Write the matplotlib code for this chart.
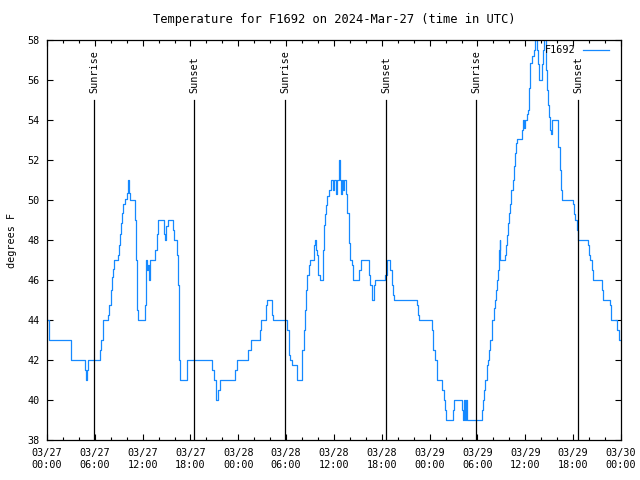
import pandas as pd
import matplotlib
matplotlib.use("Agg")
import matplotlib.pyplot as plt
import matplotlib.dates as mdates

start = pd.Timestamp("2024-03-27 00:00")

# hours since 03/27 00:00 UTC, and reading in degrees F (step data)
hours = [0, 0.25, 3.01, 4.77, 4.89, 5.02, 5.14, 6.65, 6.77, 7.03, 7.65, 7.78, 8.03, 8.15,
         8.28, 8.40, 8.91, 9.03, 9.16, 9.28, 9.41, 9.53, 9.78, 10.04, 10.16, 10.29, 10.41,
         11.04, 11.16, 11.29, 11.42, 12.29, 12.42, 12.48, 12.54, 12.67, 12.79, 12.92, 13.55,
         13.80, 13.92, 14.68, 14.80, 14.93, 15.18, 15.81, 15.93, 16.31, 16.43, 16.56, 16.62,
         16.68, 17.56, 20.70, 20.95, 21.20, 21.45, 21.70, 23.58, 23.83, 25.21, 25.59, 26.72,
         26.84, 27.47, 27.60, 28.22, 28.35, 29.85, 30.11, 30.36, 30.48, 30.73, 31.11, 31.36,
         31.99, 32.24, 32.36, 32.49, 32.61, 32.87, 32.99, 33.49, 33.62, 33.74, 33.87, 33.99,
         34.25, 34.62, 34.75, 34.87, 35.00, 35.12, 35.37, 35.63, 35.88, 36.00, 36.25, 36.38,
         36.63, 36.75, 36.88, 37.00, 37.13, 37.26, 37.51, 37.63, 37.88, 38.01, 38.26, 38.38,
         39.14, 39.39, 40.39, 40.52, 40.77, 41.02, 41.14, 42.40, 42.65, 43.03, 43.28, 43.40,
         43.53, 46.41, 46.54, 46.67, 48.29, 48.42, 48.67, 48.92, 49.55, 49.80, 49.93, 50.05,
         50.93, 51.05, 52.06, 52.18, 52.31, 52.43, 52.56, 52.68, 54.57, 54.69, 54.82, 54.94,
         55.19, 55.32, 55.44, 55.57, 55.82, 56.07, 56.20, 56.32, 56.45, 56.57, 56.70, 56.76,
         56.82, 57.45, 57.58, 57.70, 57.83, 57.95, 58.08, 58.20, 58.46, 58.58, 58.71, 58.83,
         58.96, 59.58, 59.71, 59.83, 59.96, 60.21, 60.34, 60.46, 60.59, 60.84, 61.09, 61.21,
         61.34, 61.47, 61.59, 61.72, 62.09, 62.22, 62.34, 62.59, 62.72, 62.85, 62.97, 63.10,
         63.22, 63.35, 63.97, 64.10, 64.35, 64.48, 64.60, 65.98, 66.11, 66.23, 66.48, 66.61,
         67.86, 67.99, 68.11, 68.36, 68.49, 69.62, 69.74, 70.62, 70.75, 71.50, 71.75, 72.0]
temps = [44, 43, 42, 41.5, 41, 41.5, 42, 42.5, 43, 44, 44.25, 44.75, 45.5, 46.15,
         46.55, 47, 47.25, 47.75, 48.3, 48.85, 49.35, 49.8, 50.05, 50.35, 51, 50.35, 50,
         49, 47, 44.5, 44, 44.75, 46.25, 47, 46.5, 46.75, 46, 47, 47.5,
         48.3, 49, 48.3, 48, 48.7, 49, 48.5, 48, 47.25, 45.75, 44, 42,
         41, 42, 41.5, 41, 40, 40.5, 41, 41.5, 42, 42.5, 43, 43.5,
         44, 44.75, 45, 44.25, 44, 44, 43.5, 42.25, 42, 41.75, 41.75, 41,
         42.5, 43.5, 44.5, 45.5, 46.25, 46.75, 47, 47.75, 48, 47.5, 47.25, 46.25,
         46, 47.5, 48.75, 49.3, 49.75, 50.2, 50.5, 51, 50.5, 51, 50.3, 51,
         52, 51, 50.3, 51, 50.5, 51, 50.3, 49.35, 47.85, 47, 46.75, 46,
         46.5, 47, 46.25, 45.75, 45, 45.75, 46, 46.25, 47, 46.5, 45.75, 45.25,
         45, 44.75, 44.25, 44, 43.5, 42.5, 42, 41, 40.5, 40, 39.5, 39,
         39.5, 40, 39.5, 39, 40, 39, 40, 39, 39.5, 40, 40.5, 41,
         41.75, 42, 42.5, 43, 44, 44.6, 45, 45.5, 46, 46.5, 47.5, 48,
         47, 47.25, 47.75, 48.25, 48.85, 49.35, 49.8, 50.5, 51, 51.7, 52.35, 52.85,
         53.05, 53.5, 54, 53.6, 54, 54.3, 54.5, 55.6, 56.85, 57.2, 57.5, 58,
         58.5, 57.5, 56.8, 56, 56.8, 57.5, 58.5, 56.5, 55.5, 54.75, 54.15, 53.5,
         53.3, 54, 54, 52.65, 51.5, 50.5, 50, 49.8, 49.3, 49, 48.5, 48,
         47.75, 47.25, 47, 46.5, 46, 45.5, 45, 44.75, 44, 43.5, 43, 43]

# sunrise / sunset, hours since start
sun_hours = [5.93, 18.48, 29.89, 42.56, 53.85, 66.65]
sun_labels = ["Sunrise", "Sunset", "Sunrise", "Sunset", "Sunrise", "Sunset"]

plt.rcParams["font.family"] = ["DejaVu Sans Mono"]
plt.rcParams["font.size"] = 7.3

times = start + pd.to_timedelta(hours, unit="h")
sun_times = start + pd.to_timedelta(sun_hours, unit="h")

fig = plt.figure(figsize=(6.4, 4.8), dpi=100)
ax = fig.add_axes([47 / 640, 40 / 480, 574 / 640, 400 / 480])

ax.plot(times, temps, drawstyle="steps-post", color="#1589ff", lw=0.9, label="F1692")

for t, lab in zip(sun_times, sun_labels):
    ax.plot([t, t], [38, 55], color="black", lw=0.9)
    ax.text(t, 55.35, lab, rotation=90, ha="center", va="bottom")

ax.set_xlim(start, start + pd.Timedelta(hours=72))
ax.set_ylim(38, 58)
ax.set_yticks(range(38, 59, 2))

ax.xaxis.set_major_locator(mdates.HourLocator(byhour=range(0, 24, 6)))
ax.xaxis.set_minor_locator(mdates.HourLocator(byhour=range(0, 24, 2)))
ax.xaxis.set_major_formatter(mdates.DateFormatter("%m/%d\n%H:%M"))

ax.tick_params(which="both", direction="in", top=True, right=True, width=0.8)
ax.tick_params(which="major", length=4.5, pad=5)
ax.tick_params(which="minor", length=2.5)
ax.tick_params(axis="x", pad=6)
for sp in ax.spines.values():
    sp.set_linewidth(0.9)

ax.set_title("Temperature for F1692 on 2024-Mar-27 (time in UTC)", pad=12)
ax.set_ylabel("degrees F", labelpad=8)
ax.legend(loc="upper right", bbox_to_anchor=(1 - 7 / 574, 1), frameon=False,
          markerfirst=False, handlelength=2.6, borderaxespad=0.3, borderpad=0.2,
          handletextpad=0.7)

fig.savefig("out.png", dpi=100)
